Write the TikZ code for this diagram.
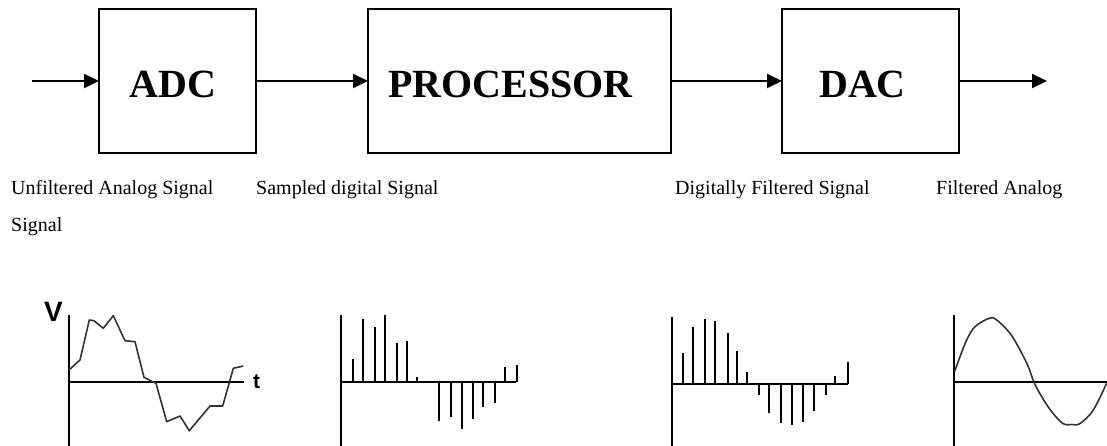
\documentclass[tikz,border=0pt]{standalone}
\usepackage{fontspec}
\setmainfont{Liberation Serif}
\newfontfamily\axisfont{Liberation Sans}
\usetikzlibrary{arrows.meta}
\tikzset{
  blockbox/.style={draw=black, line width=1.8pt, rectangle, inner sep=0pt, outer sep=0pt, minimum height=144pt},
  blocktext/.style={font=\fontsize{40}{40}\selectfont\bfseries, anchor=base, inner sep=0pt},
  arr/.style={line width=1.9pt, -{Triangle[length=15pt,width=14pt]}},
  sigtext/.style={font=\fontsize{20}{24}\selectfont, anchor=base west, inner sep=0pt},
  axisline/.style={line width=2pt, black},
  stem/.style={line width=2pt, black},
  wave/.style={line width=1.6pt, black!80, line join=round},
  axlabel/.style={font=\axisfont\bfseries, inner sep=0pt}
}
\begin{document}
\begin{tikzpicture}[x=1pt,y=-1pt]
\useasboundingbox (0,0) rectangle (1107,446);
% blocks
\node[blockbox, minimum width=157pt] (adc) at (177.5,81) {};
\node[blockbox, minimum width=303pt] (proc) at (519.5,81) {};
\node[blockbox, minimum width=177pt] (dac) at (870.5,81) {};
\node[blocktext] (adct) at (173,98) {ADC};
\node[blocktext] (proct) at (510.5,98) {PROCESSOR};
\node[blocktext] (dact) at (862.5,98) {DAC};
% connectors
\coordinate (in) at (32,81);
\coordinate (out) at (1047,81);
\draw[arr] (in) -- (adc.west);
\draw[arr] (adc.east) -- (proc.west);
\draw[arr] (proc.east) -- (dac.west);
\draw[arr] (dac.east) -- (out);
% signal labels
\node[sigtext] (l1) at (11,195) {Unfiltered Analog Signal};
\node[sigtext] (l1b) at (11,232) {Signal};
\node[sigtext] (l2) at (256,195) {Sampled digital Signal};
\node[sigtext] (l3) at (675,195) {Digitally Filtered Signal};
\node[sigtext] (l4) at (936,195) {Filtered Analog};
% plot 1: unfiltered analog
\draw[axisline] (69,315) -- (69,446);
\draw[axisline] (69,382.3) -- (244,382.3);
\node[axlabel, font=\axisfont\bfseries\fontsize{28}{28}\selectfont] (vlab) at (53.5,312) {V};
\node[axlabel, font=\axisfont\bfseries\fontsize{21}{21}\selectfont, anchor=base] (tlab) at (256.5,388.5) {t};
\draw[wave] (69,370) -- (80,360) -- (89.3,320) -- (94,320.7) -- (103.3,328.3) -- (113.3,315.7)
  -- (125,340.7) -- (135,341.7) -- (144,377.3) -- (149.3,380) -- (156,383.3) -- (166.7,421.7)
  -- (180,416) -- (189.3,430.7) -- (210,406) -- (222.7,406) -- (230,380) -- (233.3,368.3) -- (243.3,366);
% plot 2: sampled
\draw[axisline] (341.3,315) -- (341.3,446);
\draw[axisline] (341.3,382.3) -- (516,382.3);
\foreach \x/\y in {352.7/359.3, 363.3/319.3, 375/327.3, 385.3/315, 397/343.3, 407/341, 417/377.3,
  439.3/420.7, 451/416.7, 461.7/429.3, 473/419.3, 483/406.7, 495.3/403.3, 505/367.3, 517.3/365.3}
  \draw[stem] (\x,382.3) -- (\x,\y);
% plot 3: digitally filtered
\draw[axisline] (671.7,317.3) -- (671.7,446);
\draw[axisline] (671.7,384) -- (847.7,384);
\foreach \x/\y in {683.3/353.3, 693.3/327.3, 705.3/319.3, 715.3/321, 727.7/333.3, 737.3/351, 747.3/371.7,
  759.3/395, 769.3/413.3, 781/423.3, 791.7/425, 803.3/421.7, 814/411, 825.7/395, 835.3/376, 847.7/361.7}
  \draw[stem] (\x,384) -- (\x,\y);
% plot 4: filtered analog
\draw[axisline] (953.7,315) -- (953.7,446);
\draw[axisline] (953.7,382.3) -- (1107,382.3);
\draw[wave] plot[smooth, tension=0.6] coordinates {(954.5,371.7) (960,356.7) (966.7,340) (975,326.7)
  (989.3,318.3) (996.7,320) (1010,333.3) (1020,350) (1028.3,366.7) (1034,382.3) (1041.7,396.7)
  (1051.7,411.7) (1063,423.5) (1072,424.5) (1080,423.5) (1093.3,410) (1106.5,383.3)};
\end{tikzpicture}
\end{document}
